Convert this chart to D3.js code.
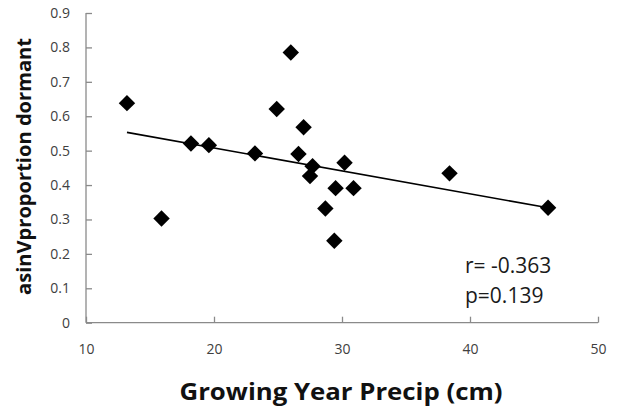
<!DOCTYPE html>
<html>
<head>
<meta charset="utf-8">
<script src="https://cdn.jsdelivr.net/npm/d3@7"></script>
<style>
  html, body { margin: 0; padding: 0; background: #fff; }
  svg { display: block; }
</style>
</head>
<body>
<div id="chart"></div>
<script>
// data
var precip = [13.2, 15.9, 18.2, 19.6, 23.2, 24.9, 26.0, 27.0, 26.6, 27.7, 27.5, 30.2, 29.5, 30.9, 28.7, 29.4, 38.4, 46.1];
var dormant = [0.638, 0.303, 0.521, 0.516, 0.492, 0.621, 0.785, 0.568, 0.490, 0.455, 0.426, 0.465, 0.391, 0.391, 0.332, 0.238, 0.434, 0.334];
var trendX = [13.2, 46.1];
var trendY = [0.553, 0.334];
var xTicks = [10, 20, 30, 40, 50];
var yTicks = [0, 0.1, 0.2, 0.3, 0.4, 0.5, 0.6, 0.7, 0.8, 0.9];
var statLines = ['r= -0.363', 'p=0.139'];

var width = 619, height = 414;
var x = d3.scaleLinear().domain([10, 50]).range([86, 598]);
var y = d3.scaleLinear().domain([0, 0.9]).range([322.7, 13]);

var svg = d3.select('#chart').append('svg').attr('width', width).attr('height', height);
var axisColor = '#8a8a8a';
var font = '"Open Sans", "DejaVu Sans", sans-serif';

// axes
var gx = svg.append('g').attr('transform', 'translate(0,' + y(0) + ')')
  .call(d3.axisBottom(x).tickValues(xTicks).tickSize(-6).tickPadding(21).tickFormat(d3.format('d')));
var gy = svg.append('g').attr('transform', 'translate(' + x(10) + ',0)')
  .call(d3.axisLeft(y).tickValues(yTicks).tickSize(-6).tickPadding(16)
    .tickFormat(function (d) { return d === 0 ? '0' : d3.format('.1f')(d); }));
[gx, gy].forEach(function (g) {
  g.selectAll('.domain').attr('stroke', axisColor).attr('stroke-width', 1.3);
  g.selectAll('.tick line').attr('stroke', axisColor).attr('stroke-width', 1.3);
  g.selectAll('text').attr('fill', '#404040').attr('font-size', 14).attr('font-family', font);
});
gx.select('.domain').attr('d', 'M' + x(10) + ',0H' + x(50));
gy.select('.domain').attr('d', 'M0,' + y(0) + 'V' + y(0.9));

// trendline
svg.append('line')
  .attr('x1', x(trendX[0])).attr('y1', y(trendY[0]))
  .attr('x2', x(trendX[1])).attr('y2', y(trendY[1]))
  .attr('stroke', '#000').attr('stroke-width', 1.6);

// diamonds
var pts = precip.map(function (p, i) { return { x: p, y: dormant[i] }; });
svg.selectAll('path.pt').data(pts).enter().append('path')
  .attr('class', 'pt')
  .attr('d', d3.symbol().type(d3.symbolSquare).size(135))
  .attr('transform', function (d) { return 'translate(' + x(d.x) + ',' + y(d.y) + ') rotate(45)'; })
  .attr('fill', '#000');

// stats text
svg.selectAll('text.stat').data(statLines).enter().append('text')
  .attr('class', 'stat')
  .attr('x', 465).attr('y', function (d, i) { return 273 + i * 30; })
  .attr('font-family', font).attr('font-size', 21).attr('fill', '#1a1a1a')
  .text(function (d) { return d; });

// axis titles
svg.append('text')
  .attr('x', 341).attr('y', 400)
  .attr('text-anchor', 'middle')
  .attr('font-family', font).attr('font-weight', 'bold').attr('font-size', 24)
  .attr('textLength', 323).attr('lengthAdjust', 'spacingAndGlyphs')
  .attr('fill', '#111')
  .text('Growing Year Precip (cm)');

svg.append('text')
  .attr('transform', 'translate(31,166.5) rotate(-90)')
  .attr('text-anchor', 'middle')
  .attr('font-family', font).attr('font-weight', 'bold').attr('font-size', 20)
  .attr('textLength', 257).attr('lengthAdjust', 'spacingAndGlyphs')
  .attr('fill', '#111')
  .text('asinVproportion dormant');
</script>
</body>
</html>
